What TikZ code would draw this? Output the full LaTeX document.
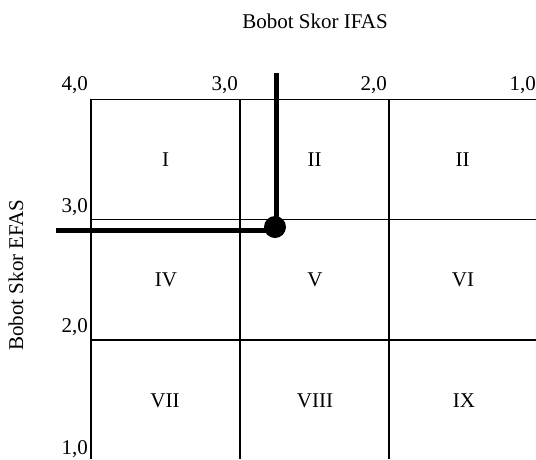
\documentclass[tikz,border=0pt]{standalone}
\usepackage{fontspec}
\setmainfont{Liberation Serif}
\begin{document}
\begin{tikzpicture}[x=1pt,y=-1pt,
  grid/.style={line width=1.7pt,black},
  thick line/.style={line width=5pt,black},
  lbl/.style={font=\fontsize{21}{25}\selectfont,inner sep=0pt},
  tick/.style={font=\fontsize{21}{25}\selectfont,inner sep=0pt,anchor=south east},
]
\useasboundingbox (0,0) rectangle (536,459);
% grid coordinates
\coordinate (tl) at (91,99.5);
\coordinate (bl) at (91,459);
\coordinate (tr) at (536,99.5);
\coordinate (c1t) at (240,99.5);
\coordinate (c1b) at (240,459);
\coordinate (c2t) at (389,99.5);
\coordinate (c2b) at (389,459);
\coordinate (r1l) at (91,219.5);
\coordinate (r1r) at (536,219.5);
\coordinate (r2l) at (91,340);
\coordinate (r2r) at (536,340);
\draw[grid] (bl) -- (tl) -- (tr);
\draw[grid] (c1t) -- (c1b);
\draw[grid] (c2t) -- (c2b);
\draw[grid] (r1l) -- (r1r);
\draw[grid] (r2l) -- (r2r);
% titles
\node[lbl] (ttop) at (315,21) {Bobot Skor IFAS};
\node[lbl,rotate=90] (tleft) at (16,275) {Bobot Skor EFAS};
% tick labels
\node[tick] (t40) at (88,94) {4,0};
\node[tick] (t30) at (238,94) {3,0};
\node[tick] (t20) at (387,94) {2,0};
\node[tick] (t10) at (536,94) {1,0};
\node[tick] (l30) at (88,216) {3,0};
\node[tick] (l20) at (88,336) {2,0};
\node[tick] (l10) at (88,458) {1,0};
% cells
\node[lbl] (c11) at (165.5,160) {I};
\node[lbl] (c12) at (314.5,160) {II};
\node[lbl] (c13) at (462.5,160) {II};
\node[lbl] (c21) at (166,280) {IV};
\node[lbl] (c22) at (315,280) {V};
\node[lbl] (c23) at (463,280) {VI};
\node[lbl] (c31) at (165,401) {VII};
\node[lbl] (c32) at (315,401) {VIII};
\node[lbl] (c33) at (464,401) {IX};
% position marker
\node[circle,fill=black,minimum size=22pt,inner sep=0pt] (dot) at (275,227) {};
\coordinate (vtop) at (276,73);
\coordinate (hleft) at (56,230);
\draw[thick line] (vtop) -- (vtop |- dot.center);
\draw[thick line] (hleft) -- (hleft -| dot.center);
\end{tikzpicture}
\end{document}
